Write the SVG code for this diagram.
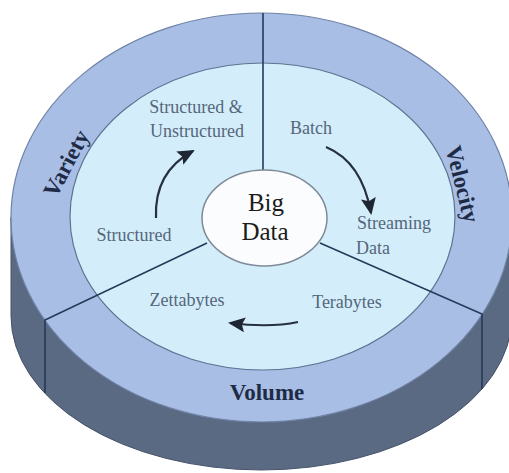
<svg xmlns="http://www.w3.org/2000/svg" width="509" height="473" viewBox="0 0 509 473">
  <defs>
    <style>
      .rim { fill: #a9bee5; stroke: #6f83a6; stroke-width: 1.2; }
      .face { fill: #d3eefa; stroke: #5f7391; stroke-width: 1.2; }
      .side { fill: #5b6a83; stroke: #46536a; stroke-width: 1; }
      .core { fill: #fbfcfd; stroke: #7f8a98; stroke-width: 1.5; }
      .div { fill: none; stroke: #253a58; stroke-width: 1.6; }
      .arrow { fill: none; stroke: #26303f; stroke-width: 2.2; }
      .lbl { font-family: "Liberation Serif", "DejaVu Serif", serif; font-size: 18px; fill: #56667b; text-anchor: middle; }
      .dim { font-family: "Liberation Serif", "DejaVu Serif", serif; font-size: 23px; font-weight: bold; fill: #1e2b46; text-anchor: middle; }
      .core-txt { font-family: "Liberation Serif", "DejaVu Serif", serif; font-size: 25px; fill: #1c1c1c; text-anchor: middle; }
    </style>
    <marker id="head" markerUnits="userSpaceOnUse" markerWidth="17" markerHeight="15" refX="15" refY="7.5" orient="auto">
      <path d="M0,0 L17,7.5 L0,15 L3,7.5 Z" fill="#1f2633"/>
    </marker>
  </defs>

  <rect width="509" height="473" fill="#ffffff"/>

  <g id="cylinder">
    <path class="side" d="M11,217.5 L11,316 A250.5,154 0 0 0 512,316 L512,217.5 A250.5,204.5 0 0 1 11,217.5 Z"/>
    <ellipse class="rim" cx="261.5" cy="217.5" rx="250.5" ry="204.5"/>
    <ellipse class="face" cx="262.5" cy="216.5" rx="192.5" ry="153.5"/>
  </g>

  <g id="connectors">
    <line class="div" x1="263" y1="13" x2="263" y2="170"/>
    <polyline class="div" points="207,243 45,320 45,393"/>
    <polyline class="div" points="320,243 482,314 482,389"/>
    <path class="arrow" d="M156,218 Q154,172 193,151" marker-end="url(#head)"/>
    <path class="arrow" d="M326,147 Q362,162 371,213" marker-end="url(#head)"/>
    <path class="arrow" d="M298,322 Q270,328 230,323" marker-end="url(#head)"/>
  </g>

  <g id="big-data">
    <ellipse class="core" cx="264.5" cy="218" rx="62.5" ry="48"/>
    <text class="core-txt" x="266" y="211">Big</text>
    <text class="core-txt" x="265" y="240">Data</text>
  </g>

  <g id="variety">
    <text class="dim" transform="translate(73,167) rotate(-62)">Variety</text>
    <text class="lbl" x="196" y="113">Structured &amp;</text>
    <text class="lbl" x="197" y="137">Unstructured</text>
    <text class="lbl" x="134" y="241">Structured</text>
  </g>

  <g id="velocity">
    <text class="dim" transform="translate(455,186) rotate(76)">Velocity</text>
    <text class="lbl" x="311" y="134">Batch</text>
    <text class="lbl" x="394" y="229">Streaming</text>
    <text class="lbl" x="373" y="254">Data</text>
  </g>

  <g id="volume">
    <text class="dim" x="267" y="400">Volume</text>
    <text class="lbl" x="187" y="306">Zettabytes</text>
    <text class="lbl" x="347" y="308">Terabytes</text>
  </g>
</svg>
